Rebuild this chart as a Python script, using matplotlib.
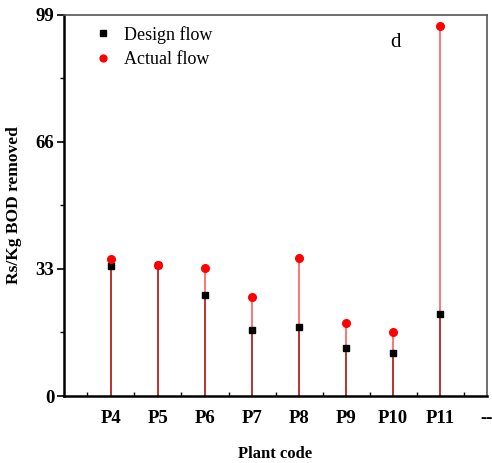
import matplotlib
matplotlib.use("Agg")
import matplotlib.pyplot as plt
import numpy as np

plt.rcParams['font.family'] = ['Liberation Serif', 'DejaVu Serif']

plants = ["P4", "P5", "P6", "P7", "P8", "P9", "P10", "P11", "--"]
design_flow = [33.8, 34.0, 26.2, 17.1, 17.8, 12.5, 11.3, 21.3]
actual_flow = [35.6, 34.0, 33.2, 25.7, 35.9, 18.9, 16.6, 96.2]

x = np.arange(1, len(design_flow) + 1)

fig = plt.figure(figsize=(4.92, 4.63), dpi=100)
ax = fig.add_axes([0.130, 0.1447, 0.860, 0.823])

# stems: light red up to actual value, darker red up to design value
ax.vlines(x, 0, actual_flow, color='#ff6a6a', linewidth=1.3, zorder=1)
ax.vlines(x, 0, design_flow, color='#b83030', linewidth=1.3, zorder=2)
ax.plot(x, design_flow, 's', color='black', markersize=5, label='Design flow', zorder=3)
ax.plot(x, actual_flow, 'o', color='red', markersize=5.5, label='Actual flow', zorder=3)

ax.set_xlim(0, 9)
ax.set_ylim(0, 99)
ax.set_xticks(np.arange(1, 10))
ax.set_xticklabels(plants, fontsize=13.5, fontweight='bold')
ax.set_xticks(np.arange(0.5, 9, 1), minor=True)
ax.set_yticks([0, 33, 66, 99])
ax.set_yticklabels(['0', '33', '66', '99'], fontsize=13.5, fontweight='bold')
ax.set_yticks([16.5, 49.5, 82.5], minor=True)
ax.tick_params(axis='y', which='major', length=5, width=1.2, pad=2)
ax.tick_params(axis='y', which='minor', length=3, width=1)
ax.tick_params(axis='x', which='major', length=0, pad=10)
ax.tick_params(axis='x', which='minor', length=3, width=1, direction='in')

for s in ['left', 'bottom']:
    ax.spines[s].set_linewidth(1.8)
    ax.spines[s].set_color('black')
for s in ['top', 'right']:
    ax.spines[s].set_linewidth(1.2)
    ax.spines[s].set_color('#555555')

ax.set_xlabel('Plant code', fontsize=12, fontweight='bold', labelpad=14)
ax.set_ylabel('Rs/Kg BOD removed', fontsize=12.5, fontweight='bold', labelpad=10)

ax.text(0.77, 0.915, 'd', transform=ax.transAxes, fontsize=15)

ax.legend(loc='upper left', frameon=False, fontsize=13, handletextpad=0.6,
          handlelength=1.2, borderaxespad=0.2, bbox_to_anchor=(0.04, 1.0),
          labelspacing=0.4, markerscale=0.9)

fig.savefig('out.png', dpi=100)
